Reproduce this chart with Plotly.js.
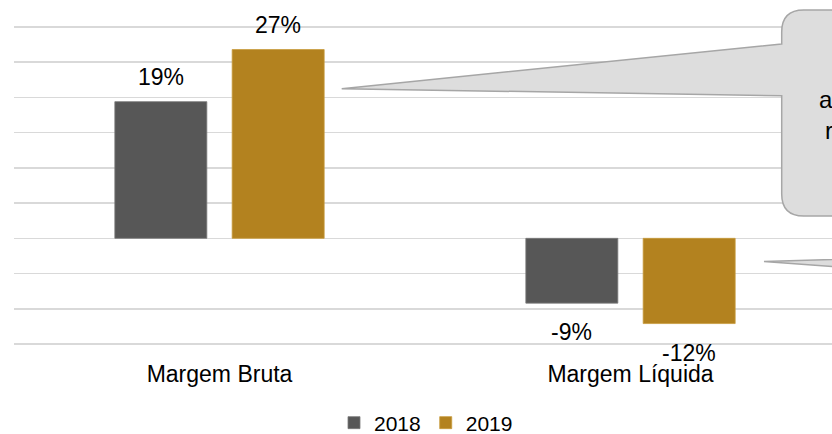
<!DOCTYPE html>
<html>
<head>
<meta charset="utf-8">
<script src="https://cdn.plot.ly/plotly-3.0.1.min.js"></script>
<style>html,body{margin:0;padding:0;background:#fff;}#chart{width:832px;height:434px;}</style>
</head>
<body>
<div id="chart"></div>
<script>
// ---- data ----
const categories = ['Margem Bruta', 'Margem Líquida'];
const seriesNames = ['2018', '2019'];
const values2018 = [19.4, -9.2];
const values2019 = [26.8, -12.1];
const labels2018 = ['19%', '-9%'];
const labels2019 = ['27%', '-12%'];
const calloutLines = ['aumento', 'redução'];

// ---- style ----
const colors = ['#575757', '#B3821F'];
const lineColors = ['#7a7a7a', '#c89a3c'];
const FONT = 'Liberation Sans, Arial, sans-serif';
const W = 832, H = 434;
const ML = 14, MT = 25, MB = 88;
const PW = W - ML, PH = H - MT - MB;
const BARGAP = 0.429, GROUPGAP = 0.216;
const catPx = 411;
const unitPx = 317 / 45;           // pixels per percentage point
const yPad = 2 / unitPx;           // 2px of headroom so edge gridlines show
const yMin = -15 - yPad, yMax = 30 + yPad;
const zeroPy = 238;                // pixel row of the zero line

// pixel -> paper helpers for decorative callouts
const X = px => (px - ML) / PW;
const Y = py => (H - MB - py) / PH;
const P = (px, py) => X(px).toFixed(5) + ',' + Y(py).toFixed(5);

const traces = [values2018, values2019].map((vals, i) => ({
  type: 'bar',
  name: seriesNames[i],
  x: categories,
  y: vals,
  marker: {color: colors[i], line: {color: lineColors[i], width: 0.8}},
  hoverinfo: 'skip'
}));

const annotations = [];
const off = (1 - BARGAP) / 4;
[[values2018, labels2018, -1], [values2019, labels2019, 1]].forEach(([vals, labs, s]) => {
  vals.forEach((v, j) => {
    annotations.push({
      x: j + s * off, y: v, xref: 'x', yref: 'y',
      text: labs[j], showarrow: false,
      yanchor: v >= 0 ? 'bottom' : 'top',
      yshift: v >= 0 ? 10 : -14,
      font: {family: FONT, size: 23, color: '#000'}
    });
  });
});
// callout text (cut by the page edge)
annotations.push({xref: 'paper', yref: 'paper', x: X(817), y: Y(99), xanchor: 'left', yanchor: 'middle',
  text: calloutLines[0], showarrow: false, font: {family: FONT, size: 24, color: '#000'}});
annotations.push({xref: 'paper', yref: 'paper', x: X(823), y: Y(130), xanchor: 'left', yanchor: 'middle',
  text: calloutLines[1], showarrow: false, font: {family: FONT, size: 24, color: '#000'}});

const shapes = [
  {type: 'path', xref: 'paper', yref: 'paper', layer: 'above',
   path: 'M' + P(781.7, 44) + ' L' + P(341.7, 88.7) + ' L' + P(781.7, 95.7) +
         ' L' + P(781.7, 194) + ' Q' + P(781.7, 216) + ' ' + P(803.7, 216) +
         ' L' + P(900, 216) + ' L' + P(900, 10) + ' L' + P(803.7, 10) +
         ' Q' + P(781.7, 10) + ' ' + P(781.7, 32) + ' Z',
   fillcolor: '#DDDDDD', line: {color: '#A6A6A6', width: 1.5}},
  {type: 'path', xref: 'paper', yref: 'paper', layer: 'above',
   path: 'M' + P(764, 261.5) + ' L' + P(900, 257.5) + ' L' + P(900, 271.5) + ' Z',
   fillcolor: '#DDDDDD', line: {color: '#A6A6A6', width: 1.5}}
];

const layout = {
  width: W, height: H,
  margin: {l: ML, r: 0, t: MT, b: MB, pad: 0, autoexpand: false},
  paper_bgcolor: '#fff', plot_bgcolor: '#fff',
  barmode: 'group', bargap: BARGAP, bargroupgap: GROUPGAP,
  font: {family: FONT, color: '#000'},
  xaxis: {
    type: 'category',
    range: [-0.5, -0.5 + PW / catPx],
    showgrid: false, zeroline: false, showline: false, ticks: '',
    tickfont: {family: FONT, size: 23, color: '#000'},
    ticklabelstandoff: 12
  },
  yaxis: {
    range: [yMin, yMax], dtick: 5, tick0: 0,
    showgrid: true, gridcolor: '#D9D9D9', gridwidth: 1.5,
    zeroline: false, showline: false, showticklabels: false, ticks: ''
  },
  showlegend: true,
  legend: {
    orientation: 'h', x: X(426), xanchor: 'center', y: Y(423), yanchor: 'middle',
    font: {family: FONT, size: 21, color: '#000'}, itemwidth: 30, traceorder: 'normal',
    bgcolor: 'rgba(0,0,0,0)'
  },
  annotations: annotations,
  shapes: shapes
};

Plotly.newPlot('chart', traces, layout, {displayModeBar: false, staticPlot: true});
</script>
</body>
</html>
